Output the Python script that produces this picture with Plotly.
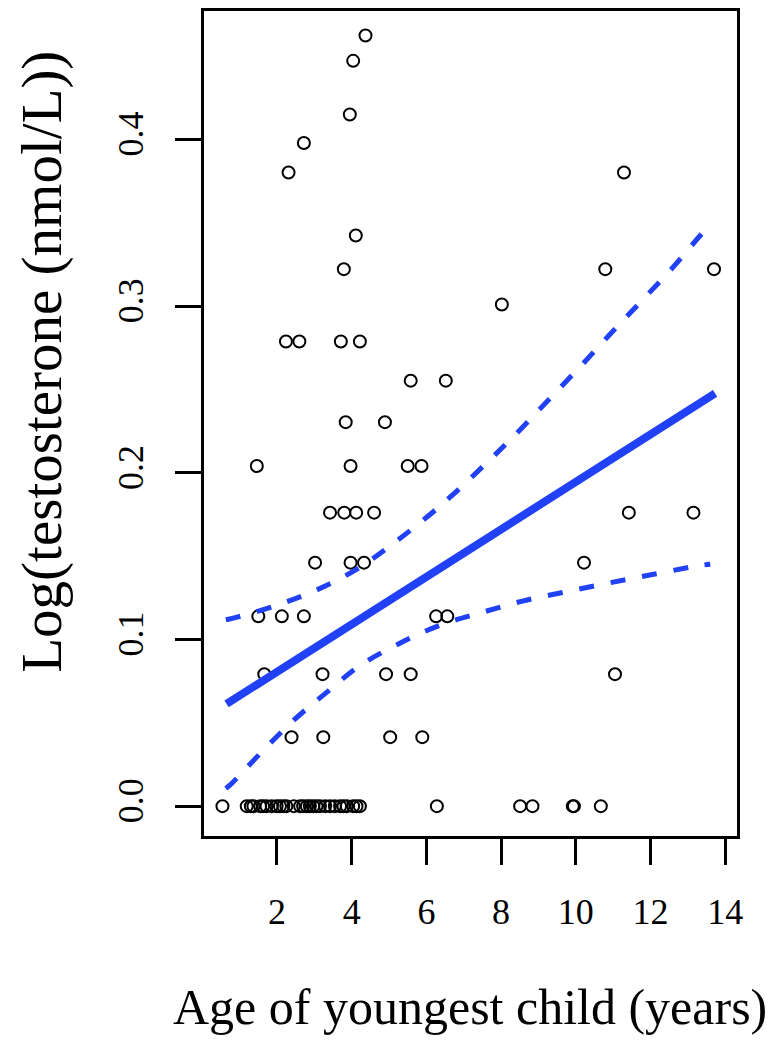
import plotly.graph_objects as go

# points (age in years, log testosterone)
zero_x = [0.54, 1.19, 1.30, 1.37, 1.55, 1.63, 1.72, 1.86, 1.99, 2.08, 2.17, 2.25,
          2.45, 2.62, 2.70, 2.80, 2.88, 2.97, 3.06, 3.15, 3.29, 3.42, 3.55, 3.69,
          3.78, 3.87, 4.04, 4.13, 4.22, 6.28, 8.51, 8.84, 9.92, 9.95, 10.67]

age = [4.37, 4.04, 3.95, 2.72, 2.31, 11.29, 4.11, 3.79, 10.79, 13.70, 8.02,
       2.24, 2.60, 3.71, 4.22,
       5.58, 6.52,
       3.84, 4.89,
       1.46, 3.97, 5.50, 5.87,
       3.42, 3.80, 4.12, 4.60, 11.42, 13.15,
       3.02, 3.97, 4.33, 10.22,
       1.50, 2.13, 2.72, 6.26, 6.56,
       1.66, 3.22, 4.92, 5.58, 11.05,
       2.39, 3.24, 5.03, 5.89]
logt = [0.4624, 0.4472, 0.4150, 0.3979, 0.3802, 0.3802, 0.3424, 0.3222, 0.3222, 0.3222, 0.3010,
        0.2788, 0.2788, 0.2788, 0.2788,
        0.2553, 0.2553,
        0.2304, 0.2304,
        0.2041, 0.2041, 0.2041, 0.2041,
        0.1761, 0.1761, 0.1761, 0.1761, 0.1761, 0.1761,
        0.1461, 0.1461, 0.1461, 0.1461,
        0.1139, 0.1139, 0.1139, 0.1139, 0.1139,
        0.0792, 0.0792, 0.0792, 0.0792, 0.0792,
        0.0414, 0.0414, 0.0414, 0.0414]

fit_x = [0.65, 13.73]
fit_y = [0.0614, 0.2477]

upper_x = [0.63, 0.83, 1.95, 3.06, 4.13, 5.11, 6.36, 7.61, 8.55, 9.35, 10.16, 10.96, 11.76, 12.57, 13.37, 13.6]
upper_y = [0.1118, 0.1128, 0.1202, 0.1297, 0.1421, 0.1575, 0.1800, 0.2059, 0.2268, 0.2457, 0.2647, 0.2842, 0.3031, 0.3225, 0.3434, 0.3490]

lower_x = [0.63, 0.74, 1.59, 2.44, 3.33, 4.22, 5.25, 6.32, 7.48, 8.60, 9.76, 10.92, 12.08, 13.24, 13.6]
lower_y = [0.0106, 0.0126, 0.0325, 0.0514, 0.0683, 0.0843, 0.0973, 0.1082, 0.1162, 0.1232, 0.1287, 0.1341, 0.1391, 0.1441, 0.1452]

blue = "#2041f5"
serif = "Liberation Serif"

all_x = zero_x + age
all_y = [0.0] * len(zero_x) + logt

# the page body adds an 8px margin, so the figure is drawn 8px smaller
W, H = 767, 1042
L, R, T, B = 196, 38, 0, 214
pw, ph = W - L - R, H - T - B

fig = go.Figure()
fig.add_trace(go.Scatter(x=all_x, y=all_y, mode="markers",
                         marker=dict(symbol="circle-open", size=12, color="black",
                                     line=dict(width=2, color="black"))))
fig.add_trace(go.Scatter(x=fit_x, y=fit_y, mode="lines",
                         line=dict(color=blue, width=8)))
fig.add_trace(go.Scatter(x=upper_x, y=upper_y, mode="lines", line_shape="spline",
                         line=dict(color=blue, width=5, dash="15px,17px")))
fig.add_trace(go.Scatter(x=lower_x, y=lower_y, mode="lines", line_shape="spline",
                         line=dict(color=blue, width=5, dash="15px,17px")))

axis_common = dict(showgrid=False, zeroline=False, showline=True, mirror=True,
                   linecolor="black", linewidth=3, ticks="outside", ticklen=26,
                   tickwidth=2.5, tickcolor="black",
                   tickfont=dict(family=serif, size=36, color="black"))

fig.update_xaxes(range=[0.046, 14.316], tickvals=[2, 4, 6, 8, 10, 12, 14],
                 ticklabelstandoff=16, **axis_common)
fig.update_yaxes(range=[-0.0179, 0.4771], tickvals=[0.0, 0.1, 0.2, 0.3, 0.4],
                 ticktext=["0.0", "0.1", "0.2", "0.3", "0.4"], tickangle=-90,
                 ticklabelstandoff=18, **axis_common)

fig.add_annotation(text="Age of youngest child (years)", xref="paper", yref="paper",
                   x=(462 - L) / pw, y=(T + ph - 1000) / ph, showarrow=False,
                   xanchor="center", yanchor="middle",
                   font=dict(family=serif, size=50, color="black"))
fig.add_annotation(text="Log(testosterone (nmol/L))", xref="paper", yref="paper",
                   x=(34 - L) / pw, y=(T + ph - 352) / ph, showarrow=False,
                   textangle=-90, xanchor="center", yanchor="middle",
                   font=dict(family=serif, size=57, color="black"))

fig.update_layout(width=W, height=H, showlegend=False,
                  margin=dict(l=L, r=R, t=T, b=B),
                  plot_bgcolor="white", paper_bgcolor="white")

fig.write_html("out.html")
